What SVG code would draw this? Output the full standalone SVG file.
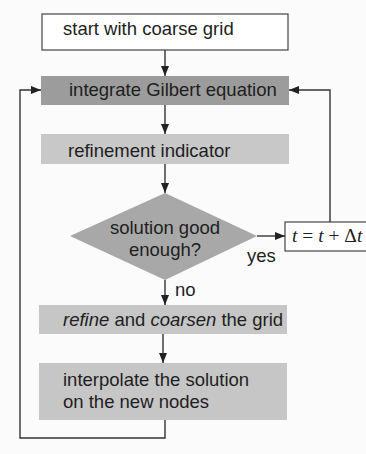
<svg xmlns="http://www.w3.org/2000/svg" width="366" height="454" viewBox="0 0 366 454">
<defs>
<marker id="ah" viewBox="0 0 10 10" refX="10" refY="5" markerWidth="10" markerHeight="10" markerUnits="userSpaceOnUse" orient="auto">
<path d="M0,1 L10,5 L0,9 z" fill="#222"/>
</marker>
<style>
.t{font-family:"Liberation Sans",Arial,sans-serif;font-size:18.5px;fill:#1e1e1e}
.ln{fill:none;stroke:#333;stroke-width:1.4}
</style>
</defs>
<rect x="0" y="0" width="366" height="454" fill="#fbfbfb"/>
<g id="start">
<rect x="42" y="14" width="246" height="36" fill="#fff" stroke="#444" stroke-width="1.2"/>
<text class="t" x="63" y="35">start with coarse grid</text>
</g>
<g id="integrate">
<rect x="41" y="76" width="248" height="29" fill="#9c9c9c"/>
<text class="t" x="69" y="96">integrate Gilbert equation</text>
</g>
<g id="indicator">
<rect x="41" y="134" width="248" height="30" fill="#c8c8c8"/>
<text class="t" x="68" y="157">refinement indicator</text>
</g>
<g id="decision">
<polygon points="165,193 257,236 165,280 70,236" fill="#a8a8a8"/>
<text class="t" x="165" y="234" text-anchor="middle">solution good</text>
<text class="t" x="165" y="256" text-anchor="middle">enough?</text>
</g>
<g id="timestep">
<rect x="285" y="222" width="85" height="29" fill="#fff" stroke="#444" stroke-width="1.2"/>
<text x="292" y="242" style="font-family:'Liberation Serif','Times New Roman',serif;font-size:19.5px;fill:#1e1e1e"><tspan font-style="italic">t</tspan> = <tspan font-style="italic">t</tspan> + Δ<tspan font-style="italic">t</tspan></text>
</g>
<g id="refine">
<rect x="39" y="305" width="248" height="29" fill="#c6c6c6"/>
<text class="t" x="63" y="326"><tspan font-style="italic">refine</tspan> and <tspan font-style="italic">coarsen</tspan> the grid</text>
</g>
<g id="interpolate">
<rect x="39" y="363" width="248" height="57" fill="#c6c6c6"/>
<text class="t" x="63" y="386">interpolate the solution</text>
<text class="t" x="63" y="408">on the new nodes</text>
</g>
<g id="connectors">
<line class="ln" x1="165" y1="50" x2="165" y2="76" marker-end="url(#ah)"/>
<line class="ln" x1="165" y1="105" x2="165" y2="134" marker-end="url(#ah)"/>
<line class="ln" x1="165" y1="164" x2="165" y2="193" marker-end="url(#ah)"/>
<line class="ln" x1="257" y1="236" x2="285" y2="236" marker-end="url(#ah)"/>
<polyline class="ln" points="330,222 330,90 289,90" marker-end="url(#ah)"/>
<line class="ln" x1="165" y1="280" x2="165" y2="305" marker-end="url(#ah)"/>
<line class="ln" x1="163" y1="334" x2="163" y2="363" marker-end="url(#ah)"/>
<polyline class="ln" points="165,420 165,438 20,438 20,90 41,90" marker-end="url(#ah)"/>
<text class="t" x="247" y="262">yes</text>
<text class="t" x="175" y="296">no</text>
</g>
</svg>
